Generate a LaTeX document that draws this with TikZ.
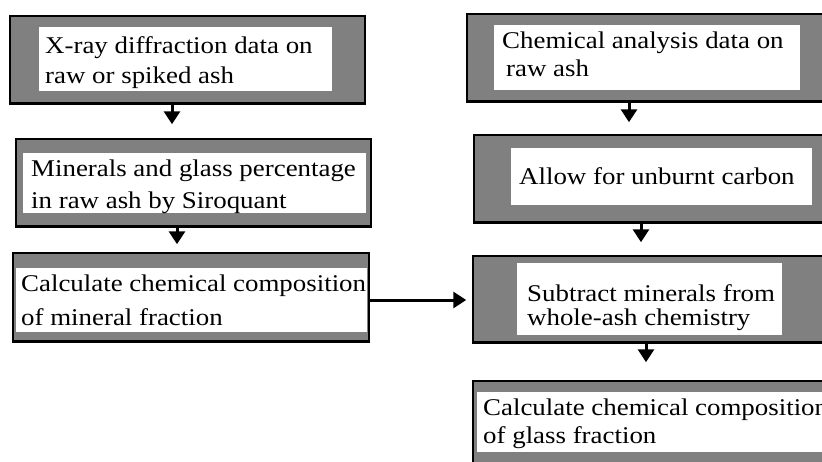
\documentclass[tikz,border=0pt]{standalone}
\usepackage{fontspec}
\setmainfont{Liberation Serif}[FakeStretch=1.12]
\usetikzlibrary{arrows.meta}
\definecolor{boxgray}{RGB}{128,128,128}
\tikzset{
  outerbox/.style={rectangle, fill=boxgray, draw=black, line width=1.5pt, inner sep=0pt},
  innerbox/.style={rectangle, fill=white, draw=none, inner sep=0pt},
  txt/.style={anchor=west, align=left, inner sep=0pt, text=black},
  arr/.style={line width=3pt, -{Triangle[width=16pt,length=13pt]}},
}
\newcommand{\fs}[1]{\fontsize{24}{#1}\selectfont}
\begin{document}
\begin{tikzpicture}[x=1pt,y=-1pt]
\useasboundingbox (0,0) rectangle (822,461);
\clip (0,0) rectangle (822,461);
% left column
\node[outerbox, minimum width=355, minimum height=88] (o1) at (187.5,60) {};
\node[innerbox, minimum width=293, minimum height=64] (i1) at (185.5,59) {};
\node[txt, font=\fs{30}] (t1) at (45,62.4) {X-ray diffraction data on\\raw or spiked ash};

\node[outerbox, minimum width=355, minimum height=88] (o2) at (193.5,183) {};
\node[innerbox, minimum width=343, minimum height=60] (i2) at (194.5,183) {};
\node[txt, font=\fs{32}] (t2) at (31,187) {Minerals and glass percentage\\in raw ash by Siroquant};

\node[outerbox, minimum width=356, minimum height=89] (o3) at (191,297.5) {};
\node[innerbox, minimum width=351, minimum height=64] (i3) at (191.5,300) {};
\node[txt, font=\fs{34}] (t3) at (21,300.6) {Calculate chemical composition\\of mineral fraction};

% right column
\node[outerbox, minimum width=363, minimum height=88] (o4) at (648.5,58) {};
\node[innerbox, minimum width=306, minimum height=65] (i4) at (647,57.5) {};
\node[txt, font=\fs{28}] (t4) at (502,54) {Chemical analysis data on\\\hspace*{4pt}raw ash};

\node[outerbox, minimum width=361, minimum height=88] (o5) at (654.5,179) {};
\node[innerbox, minimum width=301, minimum height=57] (i5) at (661.5,176.5) {};
\node[txt, font=\fs{28}] (t5) at (519,176) {Allow for unburnt carbon};

\node[outerbox, minimum width=362, minimum height=87] (o6) at (654,299.5) {};
\node[innerbox, minimum width=265, minimum height=72] (i6) at (649.5,299) {};
\node[txt, font=\fs{24}] (t6) at (527,308) {Subtract minerals from\\whole-ash chemistry};

\node[outerbox, minimum width=362, minimum height=89] (o7) at (654,425.5) {};
\node[innerbox, minimum width=358, minimum height=60] (i7) at (656,422) {};
\node[txt, font=\fs{28}] (t7) at (483,423.6) {Calculate chemical composition\\of glass fraction};

% thicker bottom edges
\foreach \b in {o1,o2,o3,o4,o5,o6,o7}{
  \draw[line width=3pt] ([yshift=1pt]\b.south west) -- ([yshift=1pt]\b.south east);
}

% arrow x positions
\coordinate (ax1) at (172,0);
\coordinate (ax2) at (177,0);
\coordinate (ax4) at (629,0);
\coordinate (ax5) at (641,0);
\coordinate (ax6) at (646,0);
\coordinate (ay3) at (0,300);

\draw[arr, shorten >=14pt] (o1.south -| ax1) -- (o2.north -| ax1);
\draw[arr, shorten >=8pt] (o2.south -| ax2) -- (o3.north -| ax2);
\draw[arr, shorten >=6pt] (o3.east |- ay3) -- (o6.west |- ay3);
\draw[arr, shorten >=12pt] (o4.south -| ax4) -- (o5.north -| ax4);
\draw[arr, shorten >=13pt] (o5.south -| ax5) -- (o6.north -| ax5);
\draw[arr, shorten >=18pt] (o6.south -| ax6) -- (o7.north -| ax6);
\end{tikzpicture}
\end{document}
